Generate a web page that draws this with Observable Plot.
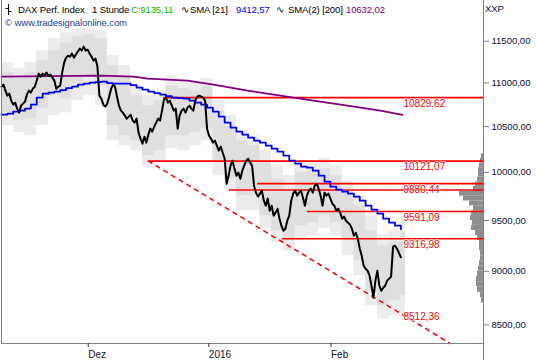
<!DOCTYPE html>
<html><head><meta charset="utf-8">
<script src="https://cdn.jsdelivr.net/npm/d3@7"></script>
<script src="https://cdn.jsdelivr.net/npm/@observablehq/plot@0.6"></script>
<style>
body{margin:0;background:#fff;}
#wrap{position:relative;width:540px;height:360px;overflow:hidden;font-family:"Liberation Sans",Arial,sans-serif;}
#wrap svg{position:absolute;left:0;top:0;}
.h{position:absolute;font-size:9.6px;line-height:12px;white-space:nowrap;color:#000;letter-spacing:-0.15px;}
</style></head><body>
<div id="wrap"></div>
<script>
// ---- data (x in trading days since start, y in index points) ----
const sampleDays = 1/3; // one close sample every ~3 hourly bars
const prices = [10956,10980,10910,10852,10875,10794,10748,10771,10703,10657,
10737,10760,10783,10864,10910,10887,10933,10956,11027,11110,
11074,11110,11086,11122,11086,11098,11062,11027,10933,10956,
10968,11122,11241,11301,11325,11313,11349,11301,11337,11373,
11409,11385,11434,11385,11397,11349,11313,11265,11289,11193,
10852,10817,10748,10726,10760,10840,10933,10980,10956,10840,
10737,10680,10657,10623,10589,10612,
10634,10567,10545,10589,10433,10366,10311,10388,10322,10410,
10477,10444,10500,10545,10589,10567,10680,10806,10829,10771,
10794,10737,10680,10703,10477,10623,10680,10703,10657,10714,
10737,10703,10680,10794,10840,10852,10840,10829,10794,
10477,10399,10366,10322,10344,10289,10234,10278,10212,10146,
9880,9965,10072,10125,10040,9965,9997,9933,10018,10072,
10125,10146,10104,10072,9859,9786,9745,9776,
9807,9703,9651,9724,9600,9651,9549,9580,9620,9518,
9448,9397,9417,9498,9549,9703,9776,9807,9755,9786,
9807,9734,9651,9755,9807,9828,9786,9859,9880,9828,
9755,9651,9786,9755,9776,9724,9672,9651,9600,9620,
9580,9518,9539,9498,9478,9458,9417,9347,9377,9318,9219,
9150,9053,9024,9005,8957,8862,8750,8910,9005,8862,
8815,8843,8862,8910,8929,8948,9238,9248,9219,9179,9135.11];

// SMA [21] one value per trading day (stepped)
const sma21 = [10634,10646,10669,10680,10703,10748,10829,10875,10887,10898,
10916,10939,10956,10980,10991,11003,11009,11015,10997,10991,
10991,10991,10974,10945,10922,10898,10881,10864,10846,10829,
10823,10817,10794,10771,10748,10714,10669,10612,10545,10489,
10444,10411,10377,10344,10322,10289,10256,10223,10180,10125,
10093,10061,10050,10018,9965,9902,9849,9817,9796,9776,
9745,9703,9651,9611,9570,9519,9478,9448,9412.57];

// SMA(2) [200]
const sma200Days = [0,8.3,16.9,22.5,24.9,28.3,31.7,36.1,41.9,47.5,53.1,58.9,64.5,68.3];
const sma200Vals = [11074,11080,11086,11074,11051,11039,11027,10980,10910,10852,10794,10737,10680,10632.02];

// grey volatility bands (every 2 trading days)
const bandDays = [0,2,4,6,8,10,12,14,16,18,20,22,24,26,28,30,32,34,36,38,40,42,44,46,48,50,52,54,56,58,60,62,64,66,68,68.8];
const bandUpperOuter = [11241,11169,11241,11385,11531,11605,11655,11655,11630,11325,11205,10968,10852,10910,11086,11027,11003,11051,10794,10623,10455,10399,10234,10072,9965,10125,10125,10146,10072,9912,9755,9549,9347,9397,9498,9498];
const bandUpperInner = [11122,11051,11122,11265,11385,11482,11556,11580,11531,11205,11086,10852,10737,10794,10968,10933,10910,10968,10680,10511,10344,10289,10104,9933,9807,9997,10018,10040,9965,9807,9651,9397,9248,9278,9387,9387];
const bandLowerInner = [10657,10567,10589,10703,10852,10817,11003,11086,10968,10511,10399,10344,10180,10234,10399,10399,10433,10477,10125,9933,9755,9755,9549,9397,9298,9448,9478,9549,9478,9298,9102,8815,8674,8721,8768,8768];
const bandLowerOuter = [10511,10433,10399,10511,10623,10657,10794,10852,10737,10344,10289,10234,10072,10125,10256,10234,10289,10344,9965,9807,9600,9600,9417,9278,9199,9298,9347,9417,9347,9150,8957,8674,8553,8581,8609,8609];

// horizontal resistance / support lines
const levelValues = [10829.62, 10121.07, 9880.44, 9814, 9591.09, 9316.98];
const levelStartDay = [27.6, 25.0, 43.6, 38.8, 52.1, 47.8];
const levelLabeled = [true, true, true, false, true, true];

// dashed trend line
const trendDays = [25.0, 70.8, 76.4];
const trendVals = [10121.07, 8512.36, 8333];

// volume profile (50-point price bins)
const profileLow = [8700,8750,8800,8850,8900,8950,9000,9050,9100,9150,9200,9250,9300,9350,9400,9450,9500,9550,9600,9650,9700,9750,9800,9850,9900,9950,10000,10050,10100,10150];
const profileVol = [2,3,6,7,7,6,5,4,3,3,4,4,6,8,12,11,13,12,10,14,20,24,10,8,6,5,5,4,3,2];

// axes
const yTicks = [8500,9000,9500,10000,10500,11000,11500];
const xTickDays = [14.77, 35.3, 56.1];
const xTickLabels = ["Dez", "2016", "Feb"];

// ---- build ----
const W = 540, H = 360;
const xDomain = [0, 82.07];
const yDomain = [8333, 12010];
const de = v => d3.format(".2f")(v).replace(".", ",");
const xLab = new Map(xTickDays.map((d, i) => [d, xTickLabels[i]]));

const priceData = prices.map((v, i) => ({day: i * sampleDays, v}));
const smaData = sma21.map((v, d) => ({day: d, v}));
const sma200Data = sma200Days.map((d, i) => ({day: d, v: sma200Vals[i]}));
const bandData = bandDays.map((d, i) => ({day: d, uo: bandUpperOuter[i], ui: bandUpperInner[i], li: bandLowerInner[i], lo: bandLowerOuter[i]}));
const levels = levelValues.map((v, i) => ({v, start: levelStartDay[i], labeled: levelLabeled[i]}));
const trend = trendDays.map((d, i) => ({day: d, v: trendVals[i]}));
const profile = profileLow.map((lo, i) => ({lo, hi: lo + 50, vol: profileVol[i]}));

const font = "'Liberation Sans', Arial, sans-serif";

const prof = Plot.plot({
  width: W, height: H, marginTop: 0, marginBottom: 17, marginLeft: 423, marginRight: 57,
  x: {domain: [0, 60], reverse: true, axis: null},
  y: {type: "log", domain: yDomain, axis: null},
  style: {background: "transparent"},
  marks: [
    Plot.rectX(profile, {y1: "lo", y2: "hi", x: "vol", fill: "#8e8e8e"})
  ]
});

const main = Plot.plot({
  width: W, height: H, marginTop: 0, marginBottom: 17, marginLeft: 1, marginRight: 57,
  x: {domain: xDomain},
  y: {type: "log", domain: yDomain},
  style: {background: "transparent", fontFamily: font, fontSize: "9px"},
  marks: [
    Plot.areaY(bandData, {x: "day", y1: "lo", y2: "uo", curve: "step-after", fill: "#ececec"}),
    Plot.areaY(bandData, {x: "day", y1: "li", y2: "ui", curve: "step-after", fill: "#dfdfdf"}),
    Plot.ruleY(levels, {y: "v", x1: "start", x2: () => xDomain[1], stroke: "#ff0000", strokeWidth: 1.6}),
    Plot.line(trend, {x: "day", y: "v", stroke: "#ff0000", strokeWidth: 1.5, strokeDasharray: "4,5"}),
    Plot.line(sma200Data, {x: "day", y: "v", stroke: "#800080", strokeWidth: 1.8}),
    Plot.line(smaData, {x: "day", y: "v", curve: "step-after", stroke: "#0000ff", strokeWidth: 1.8}),
    Plot.line(priceData, {x: "day", y: "v", stroke: "#000", strokeWidth: 2}),
    Plot.text(levels.filter(d => d.labeled), {y: "v", text: d => de(d.v), frameAnchor: "right", textAnchor: "start", dx: -80, dy: 6, fill: "#ff0000", stroke: "#fff", strokeWidth: 2, strokeOpacity: 0.6, paintOrder: "stroke", fontSize: 10}),
    Plot.text([trend[1]], {y: "v", text: d => de(d.v), frameAnchor: "right", textAnchor: "start", dx: -80, dy: -7, fill: "#ff0000", stroke: "#fff", strokeWidth: 2, strokeOpacity: 0.6, paintOrder: "stroke", fontSize: 10}),
    Plot.ruleX([xDomain[0]], {stroke: "#808080"}),
    Plot.ruleY([yDomain[0]], {stroke: "#808080"}),
    Plot.axisY({anchor: "right", ticks: yTicks, tickFormat: de, tickSize: 5, tickPadding: 3, stroke: "#808080", fill: "#0b0b3b", fontSize: 9.5, label: null}),
    Plot.axisX({ticks: xTickDays, tickFormat: d => xLab.get(d), tickSize: 4, tickPadding: 3, textAnchor: "start", stroke: "#333", fill: "#101030", fontSize: 10, label: null})
  ]
});

const wrap = document.getElementById("wrap");
wrap.appendChild(prof);
wrap.appendChild(main);

const vline = document.createElement("div");
vline.style.cssText = "position:absolute;left:483px;top:0;width:1px;height:360px;background:#808080;";
wrap.appendChild(vline);

const header = [
  {x: 18, y: 4, t: "DAX Perf. Index", c: "#000"},
  {x: 92, y: 4, t: "1 Stunde", c: "#000"},
  {x: 131, y: 4, t: "C:9135,11", c: "#00b800"},
  {x: 181, y: 4, t: "∿", c: "#000"},
  {x: 190, y: 4, t: "SMA [21]", c: "#000"},
  {x: 236, y: 4, t: "9412,57", c: "#0000ff"},
  {x: 276, y: 4, t: "∿", c: "#000"},
  {x: 288, y: 4, t: "SMA(2) [200]", c: "#000"},
  {x: 346, y: 4, t: "10632,02", c: "#800080"},
  {x: 5, y: 17, t: "© www.tradesignalonline.com", c: "#1f3f8f"},
  {x: 485, y: 3, t: "XXP", c: "#0b0b3b"}
];
for (const h of header) {
  const d = document.createElement("div");
  d.className = "h";
  d.style.left = h.x + "px"; d.style.top = h.y + "px"; d.style.color = h.c;
  d.textContent = h.t;
  wrap.appendChild(d);
}
const icon = document.createElement("div");
icon.className = "h";
icon.style.cssText += "left:4px;top:3px;";
icon.innerHTML = '<svg width="9" height="13" style="position:static"><path d="M4.5 1V12M1.5 5.5H4.5M4.5 8.5H7.5" stroke="#000" stroke-width="1"/></svg>';
wrap.appendChild(icon);
</script>
</body></html>
